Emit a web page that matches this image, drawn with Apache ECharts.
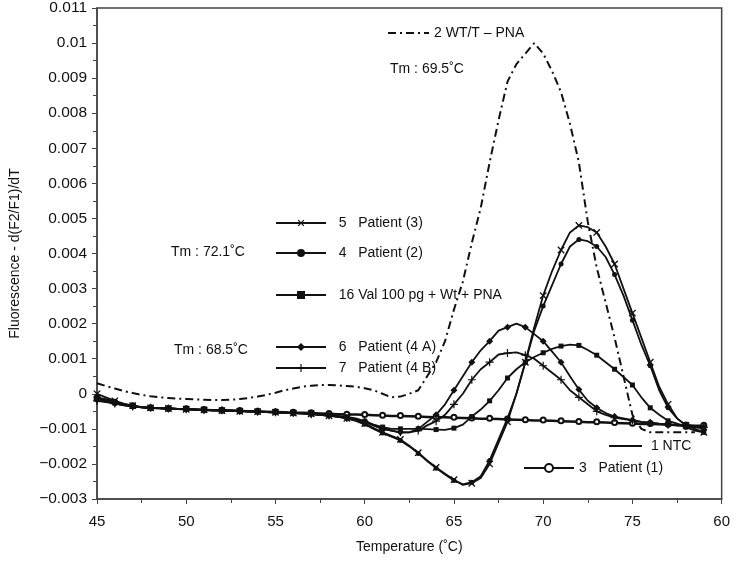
<!DOCTYPE html>
<html>
<head>
<meta charset="utf-8">
<script src="https://cdn.jsdelivr.net/npm/echarts@6/dist/echarts.min.js"></script>
<style>html,body{margin:0;padding:0;background:#fff}#c{width:733px;height:563px}</style>
</head>
<body>
<div id="c"></div>
<script>
var temps = [45,45.5,46,46.5,47,47.5,48,48.5,49,49.5,50,50.5,51,51.5,52,52.5,53,53.5,54,54.5,55,55.5,56,56.5,57,57.5,58,58.5,59,59.5,
  60,60.5,61,61.5,62,62.5,63,63.5,64,64.5,65,65.5,66,66.5,67,67.5,68,68.5,69,69.5,70,70.5,71,71.5,72,72.5,73,73.5,74,74.5,75,75.5,76,76.5,77,77.5,78,78.5,79];

var xTickLabels = ['45','50','55','60','65','70','75','60'];
var yTickLabels = ['\u22120.003','\u22120.002','\u22120.001','0','0.001','0.002','0.003','0.004','0.005','0.006','0.007','0.008','0.009','0.01','0.011'];

var wtPna = [0.0003,0.00022,0.00015,0.00008,0.00002,-0.00003,-0.00007,-0.0001,-0.00012,-0.00014,-0.00015,-0.00016,-0.00017,-0.00018,-0.00018,-0.00017,-0.00015,-0.00012,-0.00008,-0.00003,0.00003,0.0001,0.00015,0.0002,0.00023,0.00025,0.00025,0.00024,0.00022,0.0002,
  0.00016,0.0001,0.0,-0.0001,-0.00008,0.0,0.0001,0.0005,0.0009,0.0015,0.0024,0.0032,0.0043,0.0053,0.0066,0.0078,0.0089,0.0094,0.0097,0.01,0.0097,0.0092,0.0086,0.0077,0.0066,0.0049,0.0036,0.0026,0.0016,0.0005,-0.0006,-0.001,-0.0011,-0.0011,-0.0011,-0.0011,-0.0011,-0.0011,null];

var patient3 = [0.0,-0.0001,-0.0002,-0.00028,-0.00034,-0.00038,-0.0004,-0.00041,-0.00042,-0.00043,-0.00044,-0.00045,-0.00046,-0.00047,-0.00048,-0.00049,-0.0005,-0.0005,-0.00051,-0.00052,-0.00053,-0.00054,-0.00055,-0.00056,-0.00057,-0.0006,-0.00063,-0.00066,-0.0007,-0.00076,
  -0.00085,-0.00098,-0.0011,-0.0012,-0.0013,-0.00148,-0.00168,-0.0019,-0.0021,-0.00228,-0.00245,-0.0026,-0.00255,-0.0024,-0.002,-0.0014,-0.0008,0.0,0.0009,0.0019,0.0028,0.0035,0.0041,0.0046,0.0048,0.00475,0.0046,0.0042,0.0037,0.003,0.0023,0.0016,0.0009,0.0002,-0.0003,-0.0007,-0.0009,-0.001,-0.0011];

var patient2 = [-0.0001,-0.00015,-0.00022,-0.0003,-0.00035,-0.00038,-0.0004,-0.00041,-0.00042,-0.00043,-0.00044,-0.00045,-0.00046,-0.00046,-0.00047,-0.00048,-0.00049,-0.0005,-0.00051,-0.00052,-0.00053,-0.00054,-0.00055,-0.00056,-0.00057,-0.0006,-0.00062,-0.00065,-0.0007,-0.00077,
  -0.00087,-0.001,-0.00112,-0.00122,-0.00133,-0.0015,-0.0017,-0.00192,-0.00212,-0.0023,-0.00247,-0.00258,-0.00252,-0.00235,-0.0019,-0.0013,-0.0007,0.0,0.0009,0.0018,0.0025,0.0031,0.0037,0.0042,0.0044,0.00435,0.0042,0.0039,0.0034,0.0028,0.0021,0.0014,0.0008,0.0001,-0.0004,-0.0007,-0.0009,-0.00095,-0.001];

var val100 = [-0.00015,-0.0002,-0.00026,-0.00031,-0.00035,-0.00038,-0.0004,-0.00041,-0.00042,-0.00043,-0.00044,-0.00045,-0.00046,-0.00047,-0.00048,-0.00048,-0.00049,-0.0005,-0.00051,-0.00052,-0.00053,-0.00054,-0.00055,-0.00056,-0.00057,-0.00059,-0.00061,-0.00063,-0.00066,-0.0007,
  -0.00078,-0.00088,-0.00095,-0.001,-0.001,-0.001,-0.001,-0.00101,-0.00102,-0.00103,-0.00098,-0.00088,-0.00065,-0.00045,-0.0002,0.0001,0.00045,0.0007,0.0009,0.00105,0.00117,0.00128,0.00136,0.0014,0.00138,0.00125,0.0011,0.0009,0.0007,0.00048,0.00025,-0.0001,-0.0004,-0.0006,-0.00077,-0.00085,-0.00095,-0.00105,-0.0011];

var patient4A = [-0.00018,-0.00022,-0.00027,-0.00032,-0.00036,-0.00039,-0.0004,-0.00041,-0.00042,-0.00043,-0.00044,-0.00045,-0.00046,-0.00047,-0.00047,-0.00048,-0.00049,-0.0005,-0.00051,-0.00052,-0.00053,-0.00054,-0.00055,-0.00056,-0.00058,-0.0006,-0.00062,-0.00065,-0.00069,-0.00074,
  -0.0008,-0.0009,-0.001,-0.00105,-0.0011,-0.0011,-0.001,-0.0008,-0.0006,-0.0003,0.0001,0.0005,0.0009,0.00124,0.0015,0.0018,0.0019,0.002,0.0019,0.0017,0.0015,0.0012,0.0009,0.0005,0.00012,-0.0002,-0.0004,-0.00055,-0.00065,-0.0007,-0.00075,-0.0008,-0.00082,-0.00085,-0.00087,-0.0009,-0.0009,-0.00092,-0.00095];

var patient4B = [-0.0002,-0.00024,-0.00028,-0.00033,-0.00036,-0.00039,-0.0004,-0.00041,-0.00042,-0.00043,-0.00044,-0.00045,-0.00046,-0.00046,-0.00047,-0.00048,-0.00049,-0.0005,-0.00051,-0.00052,-0.00053,-0.00054,-0.00055,-0.00056,-0.00058,-0.0006,-0.00062,-0.00065,-0.00069,-0.00074,
  -0.0008,-0.0009,-0.001,-0.00105,-0.0011,-0.0011,-0.00105,-0.0009,-0.00078,-0.0006,-0.0003,0.0,0.0004,0.0007,0.0009,0.00112,0.00116,0.00118,0.0011,0.001,0.0008,0.0006,0.0004,0.0001,-0.0001,-0.0003,-0.0005,-0.0006,-0.00068,-0.00072,-0.00076,-0.0008,-0.00083,-0.00086,-0.00088,-0.0009,-0.00092,-0.00094,-0.00096];

var patient1 = [-0.00012,-0.00018,-0.00024,-0.0003,-0.00034,-0.00038,-0.0004,-0.00041,-0.00042,-0.00043,-0.00043,-0.00044,-0.00045,-0.00046,-0.00047,-0.00047,-0.00048,-0.00049,-0.0005,-0.0005,-0.00051,-0.00052,-0.00053,-0.00053,-0.00054,-0.00055,-0.00056,-0.00057,-0.00058,-0.00058,
  -0.00059,-0.0006,-0.00061,-0.00062,-0.00062,-0.00063,-0.00064,-0.00065,-0.00066,-0.00066,-0.00067,-0.00068,-0.00069,-0.0007,-0.0007,-0.00071,-0.00072,-0.00073,-0.00074,-0.00075,-0.00075,-0.00076,-0.00077,-0.00078,-0.00079,-0.0008,-0.0008,-0.00081,-0.00082,-0.00083,-0.00084,-0.00085,-0.00085,-0.00086,-0.00087,-0.00088,-0.00089,-0.0009,-0.0009];

var ntc = [-0.00016,-0.00021,-0.00027,-0.00032,-0.00036,-0.00039,-0.00041,-0.00042,-0.00043,-0.00044,-0.00045,-0.00046,-0.00047,-0.00048,-0.00049,-0.00049,-0.0005,-0.00051,-0.00052,-0.00052,-0.00053,-0.00054,-0.00055,-0.00055,-0.00056,-0.00057,-0.00058,-0.00059,-0.0006,-0.0006,
  -0.00061,-0.00062,-0.00063,-0.00064,-0.00064,-0.00065,-0.00066,-0.00067,-0.00068,-0.00068,-0.00069,-0.0007,-0.00071,-0.00072,-0.00072,-0.00073,-0.00074,-0.00075,-0.00076,-0.00077,-0.00077,-0.00078,-0.00079,-0.0008,-0.00081,-0.00082,-0.00082,-0.00083,-0.00084,-0.00085,-0.00086,-0.00087,-0.00087,-0.00088,-0.00089,-0.0009,-0.00091,-0.00092,-0.00092];

var FONT = 'Liberation Sans, Arial, Helvetica, sans-serif';
var INK = '#111';
var PLUS = 'path://M-0.15,-1L0.15,-1L0.15,-0.15L1,-0.15L1,0.15L0.15,0.15L0.15,1L-0.15,1L-0.15,0.15L-1,0.15L-1,-0.15L-0.15,-0.15Z';

function pairs(arr) { return temps.map(function (t, i) { return [t, arr[i]]; }); }
function everyOther(size) { return function (v, p) { return p.dataIndex % 2 === 0 ? size : 0; }; }

function lineSeries(name, arr, symbol, size, extra) {
  var s = {
    name: name, type: 'line', data: pairs(arr),
    symbol: symbol, symbolSize: symbol === 'none' ? 0 : everyOther(size),
    showSymbol: symbol !== 'none', showAllSymbol: true,
    lineStyle: { color: INK, width: 1.8 },
    itemStyle: { color: INK },
    emphasis: { disabled: true }, animation: false
  };
  for (var k in extra) s[k] = extra[k];
  return s;
}

var series = [
  lineSeries('1 NTC', ntc, 'none', 0, {}),
  lineSeries('3   Patient (1)', patient1, 'emptyCircle', 5, {}),
  lineSeries('7   Patient (4 B)', patient4B, PLUS, 8, {}),
  lineSeries('6   Patient (4 A)', patient4A, 'diamond', 7, {}),
  lineSeries('16 Val 100 pg + Wt + PNA', val100, 'rect', 5, {}),
  lineSeries('4   Patient (2)', patient2, 'circle', 5, {}),
  lineSeries('5   Patient (3)', patient3, PLUS, 9, { symbolRotate: 45 }),
  lineSeries('2 WT/T \u2013 PNA', wtPna, 'none', 0, { lineStyle: { color: INK, width: 2, type: [8, 4, 2, 4] } })
];

function leg(name, left, top, width, lead, hideSymbol) {
  var item = { name: name };
  if (hideSymbol) item.itemStyle = { opacity: 0 };
  return {
    data: [item], left: left, top: top, padding: 0,
    itemWidth: width, itemHeight: 10, selectedMode: false,
    formatter: function (n) { return lead + n; },
    textStyle: { fontSize: 14, color: INK, fontFamily: FONT }
  };
}

var option = {
  backgroundColor: '#fff',
  animation: false,
  grid: { left: 93, right: 10, top: 6, bottom: 64, show: true, borderColor: '#444', borderWidth: 1.5, containLabel: false },
  xAxis: {
    type: 'value', min: 45, max: 80, interval: 5,
    name: 'Temperature (\u02DAC)', nameLocation: 'middle', nameGap: 41,
    nameTextStyle: { fontSize: 14, color: INK, fontFamily: FONT },
    axisLine: { onZero: false, lineStyle: { color: '#444', width: 1.5 } },
    axisTick: { inside: false, length: 5, lineStyle: { color: '#444' } },
    minorTick: { show: true, splitNumber: 2, length: 4, lineStyle: { color: '#444' } },
    splitLine: { show: false },
    axisLabel: { margin: 15, fontSize: 15, color: INK, fontFamily: FONT, formatter: function (v, i) { return xTickLabels[i]; } }
  },
  yAxis: {
    type: 'value', min: -0.003, max: 0.011, interval: 0.001,
    name: 'Fluorescence - d(F2/F1)/dT', nameLocation: 'middle', nameGap: 75,
    nameTextStyle: { fontSize: 14, color: INK, fontFamily: FONT },
    axisLine: { onZero: false, lineStyle: { color: '#444', width: 1.5 } },
    axisTick: { inside: false, length: 5, lineStyle: { color: '#444' } },
    minorTick: { show: true, splitNumber: 2, length: 4, lineStyle: { color: '#444' } },
    splitLine: { show: false },
    axisLabel: { margin: 10, fontSize: 15.5, color: INK, fontFamily: FONT, formatter: function (v, i) { return yTickLabels[i]; } }
  },
  legend: [
    leg('5   Patient (3)', 275, 216, 50, '  ', false),
    leg('4   Patient (2)', 275, 246, 50, '  ', false),
    leg('16 Val 100 pg + Wt + PNA', 275, 288, 50, '  ', false),
    leg('6   Patient (4 A)', 275, 340, 50, '  ', false),
    leg('7   Patient (4 B)', 275, 361, 50, '  ', false),
    leg('2 WT/T \u2013 PNA', 387, 26, 41, '', true),
    leg('1 NTC', 608, 439, 33, ' ', true),
    leg('3   Patient (1)', 523, 461, 50, '', false)
  ],
  graphic: [
    { type: 'text', left: 171, top: 245, style: { text: 'Tm : 72.1\u02DAC', fontSize: 14, fill: INK, fontFamily: FONT } },
    { type: 'text', left: 174, top: 343, style: { text: 'Tm : 68.5\u02DAC', fontSize: 14, fill: INK, fontFamily: FONT } },
    { type: 'text', left: 390, top: 62, style: { text: 'Tm : 69.5\u02DAC', fontSize: 14, fill: INK, fontFamily: FONT } }
  ],
  series: series
};

var chart = echarts.init(document.getElementById('c'), null, { renderer: 'canvas' });
chart.setOption(option);
</script>
</body>
</html>
